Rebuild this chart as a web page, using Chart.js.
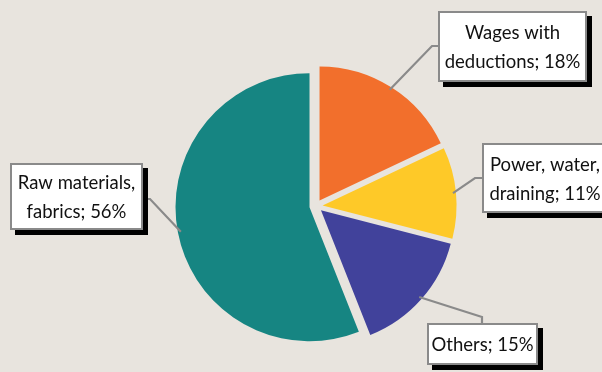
<!DOCTYPE html>
<html>
<head>
<meta charset="utf-8">
<script src="https://cdn.jsdelivr.net/npm/chart.js@4"></script>
<style>
  html, body { margin: 0; padding: 0; background: #e8e4de; }
  #wrap { width: 602px; height: 372px; position: relative; overflow: hidden; }
</style>
</head>
<body>
<div id="wrap"><canvas id="c" width="602" height="372"></canvas></div>
<script>
// ---- data ----
const categories = ['Wages with deductions', 'Power, water, draining', 'Others', 'Raw materials, fabrics'];
const values = [18, 11, 15, 56];
// word index after which each label wraps to a second line (-1 = single line)
const labelBreaks = [2, 2, -1, 2];

// ---- styles / layout ----
const colors = ['#f26f2c', '#fec928', '#41429b', '#168582'];
const GRAY = '#8a8a8a';
const EXPLODE = 6.6;
const FONT = '18.5px Lato';
// callout boxes: rect + elbow point + attach point
const callouts = [
  { box: [438, 11, 149, 71], elbow: [432, 46], attach: [438, 46] },
  { box: [482, 143, 126, 70], elbow: [475, 178], attach: [482, 178] },
  { box: [427, 323, 111, 42], elbow: [482, 317], attach: [482, 323] },
  { box: [10, 163, 133, 67], elbow: [150, 199], attach: [143, 199] }
];

function labelLines(i) {
  const words = (categories[i] + '; ' + values[i] + '%').split(' ');
  const b = labelBreaks[i];
  if (b < 0) return [words.join(' ')];
  return [words.slice(0, b).join(' '), words.slice(b).join(' ')];
}

const explodePlugin = {
  id: 'explode',
  beforeDatasetDraw(chart, args) {
    const ctx = chart.ctx;
    args.meta.data.forEach(arc => {
      const mid = (arc.startAngle + arc.endAngle) / 2;
      ctx.save();
      ctx.translate(Math.cos(mid) * EXPLODE, Math.sin(mid) * EXPLODE);
      arc.draw(ctx);
      ctx.restore();
    });
    return false;
  }
};

const calloutPlugin = {
  id: 'callouts',
  afterDatasetsDraw(chart) {
    const ctx = chart.ctx;
    const arcs = chart.getDatasetMeta(0).data;
    // leader lines first
    arcs.forEach((arc, i) => {
      const c = callouts[i];
      const mid = (arc.startAngle + arc.endAngle) / 2;
      const cx = arc.x + Math.cos(mid) * EXPLODE;
      const cy = arc.y + Math.sin(mid) * EXPLODE;
      const r = arc.outerRadius - 3;
      const ax = cx + Math.cos(mid) * r, ay = cy + Math.sin(mid) * r;
      ctx.save();
      ctx.strokeStyle = GRAY;
      ctx.lineWidth = 2.2;
      ctx.beginPath();
      ctx.moveTo(ax, ay);
      ctx.lineTo(c.elbow[0], c.elbow[1]);
      ctx.lineTo(c.attach[0], c.attach[1]);
      ctx.stroke();
      ctx.restore();
    });
    // boxes
    arcs.forEach((arc, i) => {
      const c = callouts[i];
      const [x, y, w, h] = c.box;
      ctx.save();
      ctx.fillStyle = '#000';
      ctx.fillRect(x + 5, y + 5, w, h);
      ctx.fillStyle = '#fff';
      ctx.fillRect(x, y, w, h);
      ctx.strokeStyle = GRAY;
      ctx.lineWidth = 2;
      ctx.strokeRect(x + 1, y + 1, w - 2, h - 2);
      ctx.fillStyle = '#111';
      ctx.font = FONT;
      ctx.textAlign = 'center';
      ctx.textBaseline = 'alphabetic';
      const lines = labelLines(i);
      const lh = 29;
      const cyb = y + h / 2 + 7;
      lines.forEach((t, k) => {
        const off = (k - (lines.length - 1) / 2) * lh;
        ctx.fillText(t, x + w / 2, cyb + off);
      });
      ctx.restore();
    });
  }
};

new Chart(document.getElementById('c'), {
  type: 'pie',
  data: {
    labels: categories,
    datasets: [{
      data: values,
      backgroundColor: colors,
      borderWidth: 0,
      hoverOffset: 0
    }]
  },
  options: {
    responsive: false,
    animation: false,
    radius: 134,
    layout: { padding: { left: 30, top: 40, right: 0, bottom: 0 } },
    plugins: { legend: { display: false }, tooltip: { enabled: false } },
    events: []
  },
  plugins: [explodePlugin, calloutPlugin]
});
</script>
</body>
</html>
